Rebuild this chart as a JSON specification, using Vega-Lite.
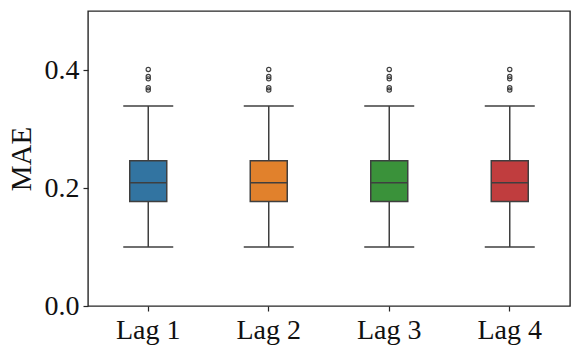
{
  "$schema": "https://vega.github.io/schema/vega-lite/v6.json",
  "autosize": {"type": "none"},
  "width": 482,
  "height": 295,
  "padding": {"left": 88, "top": 11, "right": 11, "bottom": 48},
  "background": "white",
  "config": {
    "view": {"stroke": "#262626", "strokeWidth": 1.4},
    "font": "Liberation Serif",
    "axis": {"grid": false, "domain": false, "tickColor": "#262626", "tickSize": 5, "tickWidth": 1.2, "labelColor": "#111111", "labelFont": "Liberation Serif", "labelFontSize": 28, "titleFont": "Liberation Serif", "titleFontSize": 29, "titleFontWeight": "normal", "titleColor": "#111111"}
  },
  "datasets": {
    "stats": [
      {"lag": "Lag 1", "lower": 0.100, "q1": 0.177, "median": 0.209, "q3": 0.246, "upper": 0.339},
      {"lag": "Lag 2", "lower": 0.100, "q1": 0.177, "median": 0.209, "q3": 0.246, "upper": 0.339},
      {"lag": "Lag 3", "lower": 0.100, "q1": 0.177, "median": 0.209, "q3": 0.246, "upper": 0.339},
      {"lag": "Lag 4", "lower": 0.100, "q1": 0.177, "median": 0.209, "q3": 0.246, "upper": 0.339}
    ],
    "outliers": [
      {"lag": "Lag 1", "value": 0.366}, {"lag": "Lag 1", "value": 0.370}, {"lag": "Lag 1", "value": 0.385}, {"lag": "Lag 1", "value": 0.389}, {"lag": "Lag 1", "value": 0.401},
      {"lag": "Lag 2", "value": 0.366}, {"lag": "Lag 2", "value": 0.370}, {"lag": "Lag 2", "value": 0.385}, {"lag": "Lag 2", "value": 0.389}, {"lag": "Lag 2", "value": 0.401},
      {"lag": "Lag 3", "value": 0.366}, {"lag": "Lag 3", "value": 0.370}, {"lag": "Lag 3", "value": 0.385}, {"lag": "Lag 3", "value": 0.389}, {"lag": "Lag 3", "value": 0.401},
      {"lag": "Lag 4", "value": 0.366}, {"lag": "Lag 4", "value": 0.370}, {"lag": "Lag 4", "value": 0.385}, {"lag": "Lag 4", "value": 0.389}, {"lag": "Lag 4", "value": 0.401}
    ]
  },
  "encoding": {
    "x": {"field": "lag", "type": "nominal", "sort": null, "scale": {"type": "band", "paddingInner": 0, "paddingOuter": 0}, "axis": {"title": null, "labelAngle": 0, "labelPadding": 5}}
  },
  "layer": [
    {
      "data": {"name": "stats"},
      "mark": {"type": "rule", "color": "#3f3f3f", "strokeWidth": 1.5},
      "encoding": {
        "y": {"field": "lower", "type": "quantitative", "scale": {"domain": [0, 0.5], "nice": false, "zero": false}, "axis": {"title": "MAE", "values": [0, 0.2, 0.4], "format": ".1f", "labelPadding": 4, "titlePadding": 8}},
        "y2": {"field": "upper"}
      }
    },
    {
      "data": {"name": "stats"},
      "mark": {"type": "bar", "width": 37, "stroke": "#3f3f3f", "strokeWidth": 1.5},
      "encoding": {
        "y": {"field": "q1", "type": "quantitative"},
        "y2": {"field": "q3"},
        "color": {"field": "lag", "type": "nominal", "legend": null, "scale": {"domain": ["Lag 1", "Lag 2", "Lag 3", "Lag 4"], "range": ["#3274a1", "#e1812c", "#3a923a", "#c03d3e"]}}
      }
    },
    {
      "data": {"name": "stats"},
      "mark": {"type": "tick", "color": "#3f3f3f", "size": 37, "thickness": 1.6, "opacity": 1},
      "encoding": {"y": {"field": "median", "type": "quantitative"}}
    },
    {
      "data": {"name": "stats"},
      "mark": {"type": "tick", "color": "#3f3f3f", "size": 50, "thickness": 1.5, "opacity": 1},
      "encoding": {"y": {"field": "lower", "type": "quantitative"}}
    },
    {
      "data": {"name": "stats"},
      "mark": {"type": "tick", "color": "#3f3f3f", "size": 50, "thickness": 1.5, "opacity": 1},
      "encoding": {"y": {"field": "upper", "type": "quantitative"}}
    },
    {
      "data": {"name": "outliers"},
      "mark": {"type": "point", "shape": "circle", "filled": false, "color": "#3f3f3f", "size": 18, "strokeWidth": 1.2, "opacity": 1},
      "encoding": {"y": {"field": "value", "type": "quantitative"}}
    }
  ]
}
